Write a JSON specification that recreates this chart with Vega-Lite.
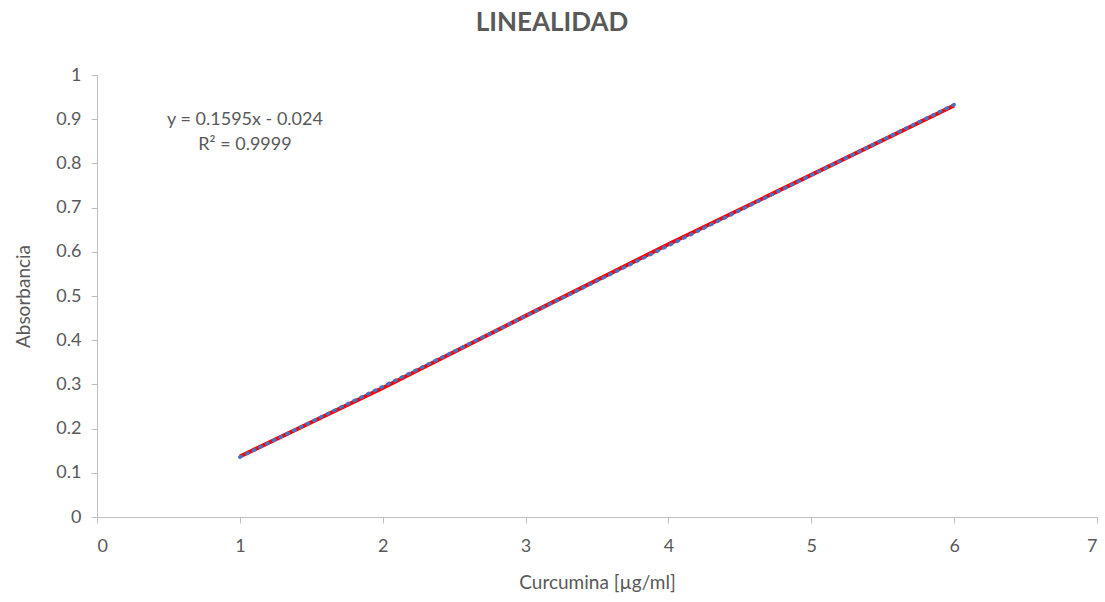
{
  "$schema": "https://vega.github.io/schema/vega-lite/v6.json",
  "width": 1000,
  "height": 442,
  "autosize": {"type": "none"},
  "padding": {"left": 97, "top": 75, "right": 8, "bottom": 85},
  "background": "white",
  "config": {
    "view": {"stroke": null},
    "font": "Lato",
    "axis": {
      "grid": false,
      "domainColor": "#bfbfbf",
      "tickColor": "#bfbfbf",
      "tickSize": 6,
      "labelColor": "#595959",
      "labelFontSize": 18,
      "labelFont": "Lato",
      "titleColor": "#595959",
      "titleFontSize": 19,
      "titleFont": "Lato",
      "titleFontWeight": "normal"
    }
  },
  "title": {
    "text": "LINEALIDAD",
    "fontSize": 26,
    "font": "Lato",
    "fontWeight": "bold",
    "color": "#595959",
    "anchor": "middle",
    "dx": -45,
    "offset": 30
  },
  "datasets": {
    "data": [
      {"conc": 1, "abs": 0.137},
      {"conc": 2, "abs": 0.292},
      {"conc": 3, "abs": 0.455},
      {"conc": 4, "abs": 0.617},
      {"conc": 5, "abs": 0.774},
      {"conc": 6, "abs": 0.931}
    ],
    "trend": [
      {"conc": 1, "abs": 0.1355},
      {"conc": 6, "abs": 0.933}
    ]
  },
  "layer": [
    {
      "data": {"name": "data"},
      "mark": {"type": "line", "color": "#ff0000", "strokeWidth": 4},
      "encoding": {
        "x": {
          "field": "conc", "type": "quantitative",
          "scale": {"domain": [0, 7], "nice": false},
          "axis": {"values": [0, 1, 2, 3, 4, 5, 6, 7], "format": "~g", "title": "Curcumina [µg/ml]", "titlePadding": 18, "labelPadding": 14}
        },
        "y": {
          "field": "abs", "type": "quantitative",
          "scale": {"domain": [0, 1], "nice": false},
          "axis": {"values": [0, 0.1, 0.2, 0.3, 0.4, 0.5, 0.6, 0.7, 0.8, 0.9, 1], "format": "~g", "title": "Absorbancia", "titlePadding": 22, "labelPadding": 10}
        }
      }
    },
    {
      "data": {"name": "trend"},
      "mark": {"type": "line", "color": "#4472c4", "strokeWidth": 3.5, "strokeDash": [1.5, 6], "strokeCap": "round", "opacity": 1},
      "encoding": {
        "x": {"field": "conc", "type": "quantitative"},
        "y": {"field": "abs", "type": "quantitative"}
      }
    },
    {
      "data": {"values": [{"label": "y = 0.1595x - 0.024", "lx": 1.036, "ly": 0.898}, {"label": "R² = 0.9999", "lx": 1.036, "ly": 0.842}]},
      "mark": {"type": "text", "fontSize": 18, "color": "#595959", "font": "Lato", "align": "center", "baseline": "middle"},
      "encoding": {
        "x": {"field": "lx", "type": "quantitative"},
        "y": {"field": "ly", "type": "quantitative"},
        "text": {"field": "label"}
      }
    }
  ]
}
